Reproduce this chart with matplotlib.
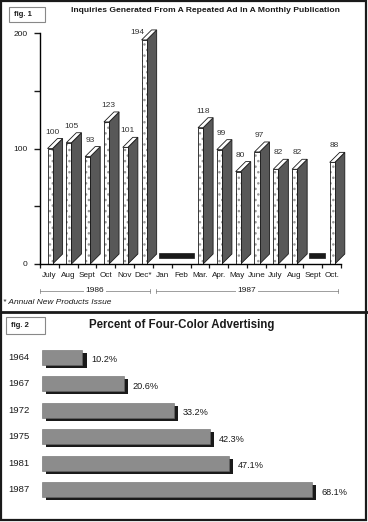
import matplotlib
matplotlib.use("Agg")
import matplotlib.pyplot as plt
import matplotlib.transforms as mtransforms
import matplotlib.patheffects as pe
from matplotlib.patches import Polygon, Rectangle
import numpy as np

plt.rcParams['font.family'] = ['Liberation Sans', 'DejaVu Sans']

# fig. 1 data: inquiries per monthly issue (None = ad not run)
months = ["July", "Aug", "Sept", "Oct", "Nov", "Dec*", "Jan", "Feb",
          "Mar.", "Apr.", "May", "June", "July", "Aug", "Sept", "Oct."]
inquiries = [100, 105, 93, 123, 101, 194, None, None,
             118, 99, 80, 97, 82, 82, None, 88]
years = ["1986", "1987"]
year_first = [0, 6]    # index of first month of each year
year_last = [5, 15]

# fig. 2 data
ad_years = ["1964", "1967", "1972", "1975", "1981", "1987"]
four_color = [10.2, 20.6, 33.2, 42.3, 47.1, 68.1]

W, H = 368, 522
fig = plt.figure(figsize=(W / 100, H / 100), dpi=100)

def fx(px):
    return px / W

def fy(py):
    return 1 - py / H

dark = "#1a1a1a"
side_gray = "#585858"
bar_gray = "#8c8c8c"

# ---------- fig. 1 ----------
ymax = 212
ax = fig.add_axes([fx(40), fy(264), fx(301), 231 * ymax / 200 / H])
ax.set_xlim(0, 16)
ax.set_ylim(0, ymax)
for s in ['top', 'right']:
    ax.spines[s].set_visible(False)
ax.spines['left'].set_bounds(0, 200)
ax.spines['left'].set_linewidth(1.0)
ax.spines['bottom'].set_linewidth(1.0)
ax.set_yticks([0, 50, 100, 150, 200])
ax.set_yticklabels(["0", "", "100", "", "200"])
ax.tick_params(axis='y', length=4, width=1, labelsize=6, pad=5, colors=dark)
ax.set_xticks(np.arange(17))
ax.set_xticklabels([])
ax.tick_params(axis='x', which='major', length=3, width=0.9, colors=dark)
ax.set_xticks(np.arange(16) + 0.5, minor=True)
ax.set_xticklabels(months, minor=True)
ax.tick_params(axis='x', which='minor', length=0, pad=5.5, labelsize=5.9,
               labelcolor=dark)

front_w = 0.27
depth_x = 10 / 18.8
depth_y = 10 * 200 / 231
for i, v in enumerate(inquiries):
    if v is None:
        continue
    x0 = i + 0.4
    x1 = x0 + front_w
    side = Polygon([(x1, 0), (x1 + depth_x, depth_y), (x1 + depth_x, v + depth_y), (x1, v)],
                   closed=True, facecolor=side_gray, edgecolor=dark, lw=0.6, clip_on=False)
    ax.add_patch(side)
    # stippled white front face: hatch drawn in gray, outline in black
    ax.add_patch(Rectangle((x0, 0), front_w, v, facecolor="white", edgecolor="#9a9a9a",
                           hatch="...", lw=0, clip_on=False))
    ax.add_patch(Rectangle((x0, 0), front_w, v, facecolor="none", edgecolor=dark,
                           lw=0.6, clip_on=False))
    top = Polygon([(x0, v), (x1, v), (x1 + depth_x, v + depth_y), (x0 + depth_x, v + depth_y)],
                  closed=True, facecolor="white", edgecolor=dark, lw=0.6, clip_on=False)
    ax.add_patch(top)
    if v + depth_y + 10 > 200:
        # no room above the tallest bar: label sits beside its top
        ax.text(i + 0.16, v + 6, str(v), ha='center', va='center',
                fontsize=6, color="#333333")
    else:
        ax.text(i + 0.65, v + depth_y + 2.5, str(v), ha='center', va='bottom',
                fontsize=6, color="#333333")

# black markers for months without the ad
i = 0
while i < len(inquiries):
    if inquiries[i] is None:
        j = i
        while j + 1 < len(inquiries) and inquiries[j + 1] is None:
            j += 1
        ax.add_patch(Rectangle((i + 0.3, 5.2), j + 1.17 - (i + 0.3), 4.3,
                               facecolor=dark, edgecolor=dark, lw=0.5))
        i = j + 1
    else:
        i += 1

# year brackets below month labels
tr = mtransforms.blended_transform_factory(ax.transData, fig.transFigure)
for name, a, b in zip(years, year_first, year_last):
    xa = a + 0.0 if a == 0 else a + 0.17
    xb = b + 0.85
    yl = fy(291)
    ax.plot([xa, xb], [yl, yl], transform=tr, color="#777777", lw=0.5, clip_on=False)
    for xe in (xa, xb):
        ax.plot([xe, xe], [yl - 2 / H, yl + 2 / H], transform=tr, color="#777777",
                lw=0.5, clip_on=False)
    ax.text((xa + xb) / 2, yl, name, transform=tr, ha='center', va='center',
            fontsize=6, color=dark,
            bbox=dict(facecolor='white', edgecolor='none', pad=1.2))

fig.text(fx(205), fy(11), "Inquiries Generated From A Repeated Ad In A Monthly Publication",
         ha='center', va='center', fontsize=6.1, fontweight='bold', color=dark)
fig.text(fx(3), fy(303), "* Annual New Products Issue", ha='left', va='center',
         fontsize=6, style='italic', color=dark)

# ---------- fig. 2 ----------
ax2 = fig.add_axes([fx(42), fy(503), fx(317.6), 159 / H])
ax2.set_xlim(0, 80)
ax2.set_ylim(len(ad_years) - 0.5, -0.5)
ax2.axis('off')
ypos = np.arange(len(ad_years))
bars = ax2.barh(ypos, four_color, height=0.57, color=bar_gray, edgecolor="#6a6a6a", lw=0.4)
for b in bars:
    b.set_path_effects([pe.withSimplePatchShadow(offset=(2.9, -2.2), shadow_rgbFace=dark,
                                                 alpha=1.0)])
for y, v, name in zip(ypos, four_color, ad_years):
    ax2.text(v + 2.3, y + 0.1, f"{v}%", ha='left', va='center', fontsize=6.6, color=dark)
    ax2.text(-34 / 3.97, y, name, ha='left', va='center', fontsize=6.8, color=dark)

fig.text(fx(182), fy(325), "Percent of Four-Color Advertising", ha='center', va='center',
         fontsize=8.3, fontweight='bold', color=dark)

# fig labels and frames
for label, (x0, y0, x1, y1) in [("fig. 1", (9, 7, 45, 22)), ("fig. 2", (6, 317, 45, 334))]:
    fig.patches.append(Rectangle((fx(x0), fy(y1)), fx(x1 - x0), (y1 - y0) / H,
                                 transform=fig.transFigure, facecolor='white',
                                 edgecolor="#888888", lw=0.8))
    fig.text(fx(x0 + 5), fy((y0 + y1) / 2), label, ha='left', va='center',
             fontsize=5.5, fontweight='bold', color=dark)

fig.patches.append(Rectangle((fx(1), fy(520)), fx(365), 519 / H, transform=fig.transFigure,
                             facecolor='none', edgecolor=dark, lw=1.6))
fig.lines.append(plt.Line2D([0, 1], [fy(311.5), fy(311.5)], transform=fig.transFigure,
                            color=dark, lw=2.0))

fig.savefig("out.png", dpi=100)
